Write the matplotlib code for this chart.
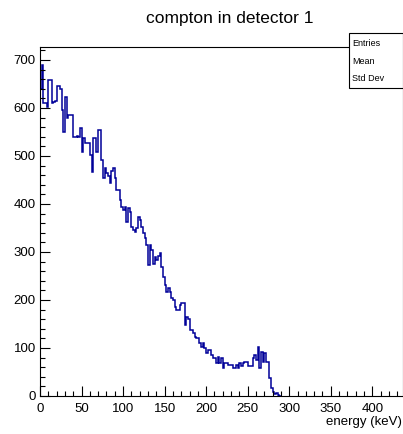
import matplotlib
matplotlib.use("Agg")
import matplotlib.pyplot as plt
import numpy as np
from matplotlib.patches import Rectangle
from matplotlib.ticker import MultipleLocator

plt.rcParams["font.family"] = ["Liberation Sans", "DejaVu Sans"]

# 2 keV bins starting at 0
bin_width = 2
counts = [640, 690, 610, 610, 602, 658, 658, 610, 612, 615,
          646, 646, 640, 596, 550, 623, 579, 585, 585, 585,
          540, 540, 542, 540, 558, 508, 537, 527, 527, 527,
          502, 467, 537, 537, 508, 554, 554, 492, 454, 475,
          465, 458, 444, 469, 475, 454, 429, 429, 408, 394,
          387, 394, 362, 392, 383, 352, 346, 342, 350, 373,
          367, 352, 340, 329, 315, 273, 315, 304, 275, 290,
          284, 292, 298, 269, 248, 231, 217, 225, 217, 204,
          200, 185, 179, 179, 190, 194, 194, 148, 165, 160,
          138, 138, 131, 123, 121, 121, 110, 102, 110, 100,
          90, 96, 96, 85, 79, 79, 69, 81, 69, 79,
          58, 69, 69, 65, 65, 65, 58, 58, 65, 58,
          69, 63, 69, 71, 71, 63, 63, 63, 79, 85,
          75, 102, 58, 92, 71, 90, 71, 71, 38, 17,
          8, 4, 6, 2, 0]
edges = np.arange(len(counts) + 1) * bin_width

title = "compton in detector 1"
xlabel = "energy (keV)"
stats_names = ["Entries", "Mean", "Std Dev"]

W, H = 403, 434
fig = plt.figure(figsize=(W / 100, H / 100), dpi=100)
ax = fig.add_axes([40 / W, (H - 396) / H, 363 / W, 349 / H])

ax.stairs(counts, edges, color="#000099", linewidth=1.1, baseline=0)
ax.set_xlim(0, 437)
ax.set_ylim(0, 727)

ax.xaxis.set_major_locator(MultipleLocator(50))
ax.xaxis.set_minor_locator(MultipleLocator(10))
ax.yaxis.set_major_locator(MultipleLocator(100))
ax.yaxis.set_minor_locator(MultipleLocator(20))
ax.tick_params(which="both", direction="in", top=False, right=False, labelsize=9.5)
ax.tick_params(which="major", length=7, width=0.8)
ax.tick_params(which="minor", length=3.5, width=0.8)
ax.tick_params(axis="x", pad=5)
ax.tick_params(axis="y", pad=3)
for s in ax.spines.values():
    s.set_linewidth(0.8)

fig.text(230 / W, 1 - 18 / H, title, ha="center", va="center", fontsize=12.5)
fig.text(402 / W, 1 - 422 / H, xlabel, ha="right", va="center", fontsize=9.5)

# stats box
fig.patches.append(Rectangle((349 / W, 1 - 88 / H), 53.5 / W, 55 / H,
                             transform=fig.transFigure, facecolor="white",
                             edgecolor="black", linewidth=0.8, zorder=5))
for i, name in enumerate(stats_names):
    fig.text(352 / W, 1 - (43 + i * 18) / H, name, ha="left", va="center",
             fontsize=6.5, zorder=6)

fig.savefig("out.png", dpi=100)
